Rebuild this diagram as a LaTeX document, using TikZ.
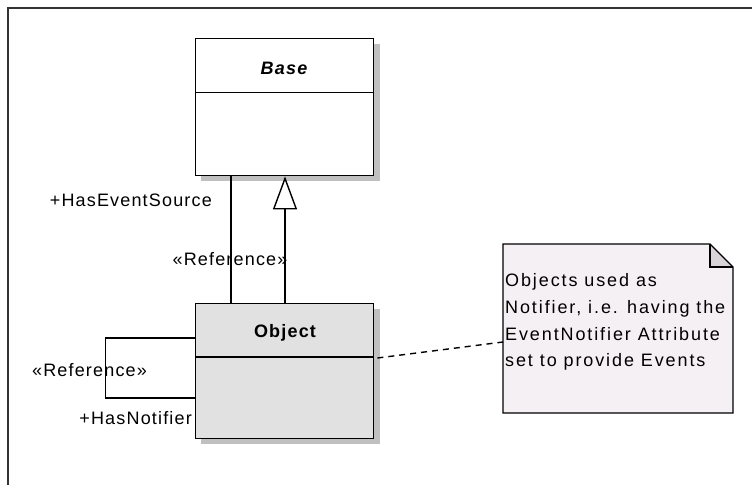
\documentclass[tikz,border=0pt]{standalone}
\usepackage{fontspec}
\setmainfont{Liberation Sans}[LetterSpace=6.5]
\usetikzlibrary{arrows.meta,calc}
\definecolor{shadowgray}{HTML}{C0C0C0}
\definecolor{objfill}{HTML}{E1E1E1}
\definecolor{notefill}{HTML}{F5F0F4}
\definecolor{foldfill}{HTML}{D8D4D8}
\tikzset{
  umlbox/.style={draw=black, line width=1.4pt, anchor=north west, inner sep=0pt},
  lbl/.style={font=\fontsize{18}{21}\selectfont, inner sep=0pt},
  title/.style={font=\fontsize{18}{21}\selectfont\bfseries, inner sep=0pt},
  conn/.style={draw=black, line width=1.4pt},
}
\begin{document}
\begin{tikzpicture}[x=1pt,y=-1pt]
\useasboundingbox (0,0) rectangle (752,485);
\fill[white] (0,0) rectangle (752,485);
% frame
\draw[line width=1.3pt, black!80] (8,485) -- (8,8) -- (752,8);
% shadows
\fill[shadowgray] (201,44) rectangle (380,181);
\fill[shadowgray] (201,309) rectangle (380,444);
% Base class
\node[umlbox, fill=white, minimum width=178, minimum height=137] (base) at (195,38) {};
\draw[line width=1.4pt] ($(base.north west)+(0,54.7)$) -- ($(base.north east)+(0,54.7)$);
\node[title] (basetitle) at (284,68) {\itshape Base};
% Object class
\node[umlbox, fill=objfill, minimum width=178, minimum height=135] (object) at (195,303) {};
\draw[line width=1.4pt] ($(object.north west)+(0,54)$) -- ($(object.north east)+(0,54)$);
\node[title] (objtitle) at (285,333) {Object};
% Note
\coordinate (nA) at (503,244);
\coordinate (nB) at (710,244);
\coordinate (nC) at (733,267);
\coordinate (nD) at (733,413);
\coordinate (nE) at (503,413);
\fill[notefill] (nA) -- (nB) -- (nC) -- (nD) -- (nE) -- cycle;
\fill[foldfill] (nB) -- (nC) -- (710,267) -- cycle;
\draw[line width=1.4pt, line join=miter] (nA) -- (nB) -- (nC) -- (nD) -- (nE) -- cycle;
\draw[line width=1.4pt] (nB) -- (710,267) -- (nC);
\node[lbl, anchor=north west, align=left, font=\fontsize{18}{26.7}\selectfont\addfontfeature{LetterSpace=10.5}] (notetext) at (505,273.5) {Objects used as\\Notifier, i.e. having the\\EventNotifier Attribute\\set to provide Events};
\node[inner sep=0pt, minimum width=230, minimum height=169, anchor=north west] (note) at (503,244) {};
% labels
\node[lbl, anchor=east] (lHES) at (212,200) {+HasEventSource};
\node[lbl] (lRef1) at (230,259) {«Reference»};
\node[lbl] (lRef2) at (89.5,370) {«Reference»};
\node[lbl, anchor=east] (lHN) at (192,418) {+HasNotifier};
% association Base-Object
\draw[conn] ($(object.north west)+(36,0)$) -- ($(base.south west)+(36,0)$);
% generalization
\draw[conn, -{Triangle[open, length=33pt, width=24pt, line width=1.4pt]}] ($(object.north west)+(90,0)$) -- ($(base.south west)+(90,0)$);
% self association
\coordinate (s1) at (105.7,338);
\coordinate (s2) at (105.7,398);
\draw[conn] ($(object.north west)+(0,35)$) -- (s1) -- (s2) -- ($(object.north west)+(0,95)$);
% note link
\draw[conn, dash pattern=on 6pt off 5pt] ($(object.north east)+(3,55)$) -- ($(note.north west)+(0,98)$);
\end{tikzpicture}
\end{document}
